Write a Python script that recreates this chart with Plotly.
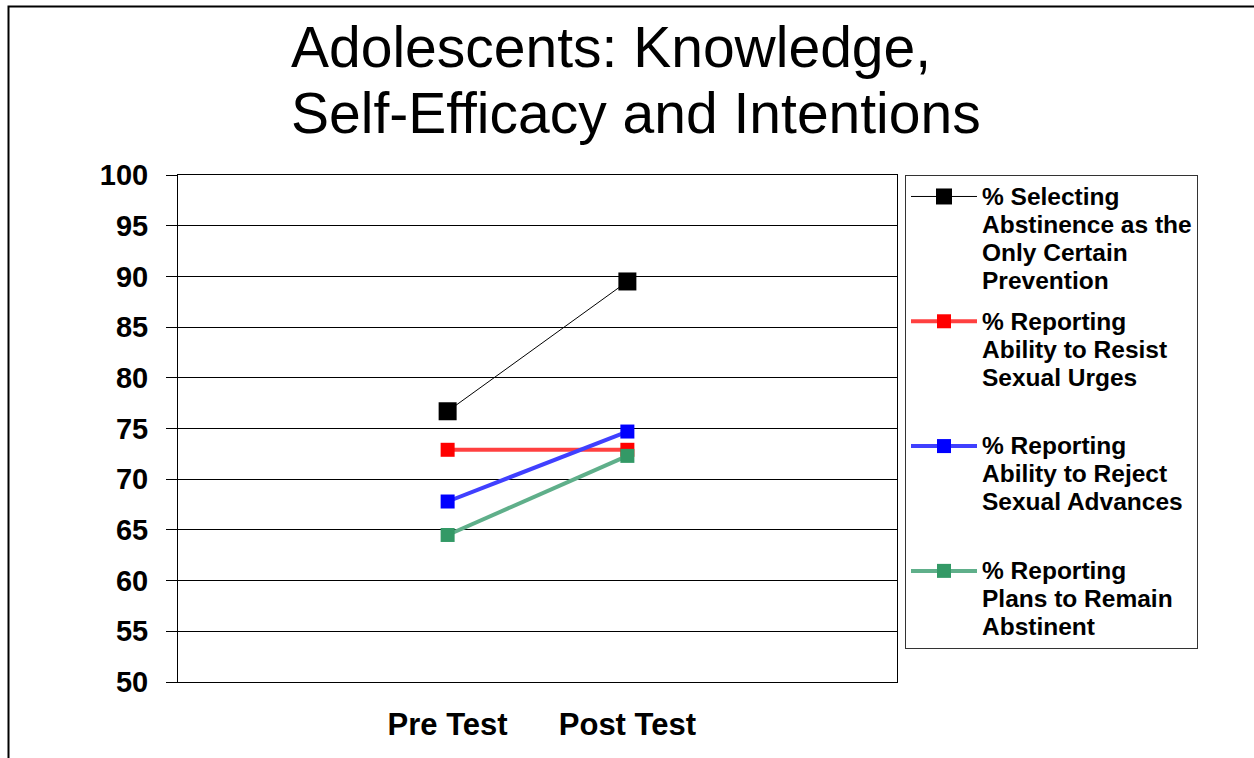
import plotly.graph_objects as go

categories = ["Pre Test", "Post Test"]
series_names = [
    ["% Selecting", "Abstinence as the", "Only Certain", "Prevention"],
    ["% Reporting", "Ability to Resist", "Sexual Urges", " "],
    ["% Reporting", "Ability to Reject", "Sexual Advances", " "],
    ["% Reporting", "Plans to Remain", "Abstinent"],
]
abstinence = [76.7, 89.5]
resist = [72.9, 72.9]
reject = [67.8, 74.7]
plans = [64.5, 72.3]
y_ticks = [50, 55, 60, 65, 70, 75, 80, 85, 90, 95, 100]
title_lines = ["Adolescents: Knowledge,", "Self-Efficacy and Intentions"]

series_values = [abstinence, resist, reject, plans]
line_colors = ["#000000", "#FF4040", "#4040FF", "#5FAF8A"]
marker_colors = ["#000000", "#FF0000", "#0000FF", "#339966"]
line_widths = [1, 4, 4, 4]
marker_sizes = [18, 14, 14, 14]

FONT = "Liberation Sans, Arial, sans-serif"


def legend_label(lines):
    return "<br>".join('<span style="font-size:24.5px">%s</span>' % ln for ln in lines)


fig = go.Figure()
for name, vals, lc, mc, lw, ms in zip(series_names, series_values, line_colors,
                                       marker_colors, line_widths, marker_sizes):
    label = legend_label(name)
    fig.add_trace(go.Scatter(
        x=categories, y=vals, name=label, mode="lines+markers",
        line=dict(color=lc, width=lw),
        marker=dict(symbol="square", size=ms, color=mc),
        legendgroup=name[1],
    ))

W, H = 1254, 758
L, R, T, B = 178, 897, 175, 682
pw, ph = R - L, B - T


def px(x):
    return (x - L) / pw


def py(y):
    return (B - y) / ph


annotations = []
for line, yc in zip(title_lines, [47, 113]):
    annotations.append(dict(
        text=line, xref="paper", yref="paper", x=px(289), y=py(yc),
        xanchor="left", yanchor="middle", showarrow=False,
        font=dict(family=FONT, size=57, color="black"),
    ))

fig.update_layout(
    width=W, height=H,
    margin=dict(l=L, r=W - R, t=T, b=H - B, pad=0),
    paper_bgcolor="white", plot_bgcolor="white",
    font=dict(family=FONT, color="black"),
    xaxis=dict(
        type="category", range=[-1.5, 2.5],
        showgrid=False, zeroline=False,
        showline=True, linecolor="black", linewidth=1, mirror=True,
        ticks="", tickfont=dict(family=FONT, size=31, color="black", weight="bold"),
        ticklabelstandoff=15,
    ),
    yaxis=dict(
        range=[50, 100], tickvals=y_ticks,
        showgrid=True, gridcolor="black", gridwidth=1, zeroline=False,
        showline=True, linecolor="black", linewidth=1, mirror=True,
        ticks="outside", ticklen=11, tickcolor="black", tickwidth=1,
        tickfont=dict(family=FONT, size=29, color="black", weight="bold"),
        ticklabelstandoff=12,
    ),
    legend=dict(
        x=px(905), y=1.0, xanchor="left", yanchor="top",
        bordercolor="#333333", borderwidth=1, bgcolor="white",
        font=dict(family=FONT, size=21.5, color="black", weight="bold"),
        valign="top", tracegroupgap=10, itemwidth=66,
    ),
    showlegend=True,
    annotations=annotations,
    shapes=[dict(
        type="rect", xref="paper", yref="paper",
        x0=px(8.5), x1=px(1300), y0=py(6.5), y1=py(800),
        line=dict(color="black", width=2), fillcolor="rgba(0,0,0,0)", layer="below",
    )],
)

fig.write_html(
    "out.html",
    config={"displayModeBar": False},
    post_script="document.body.style.margin='0';document.body.style.overflow='hidden';",
)
